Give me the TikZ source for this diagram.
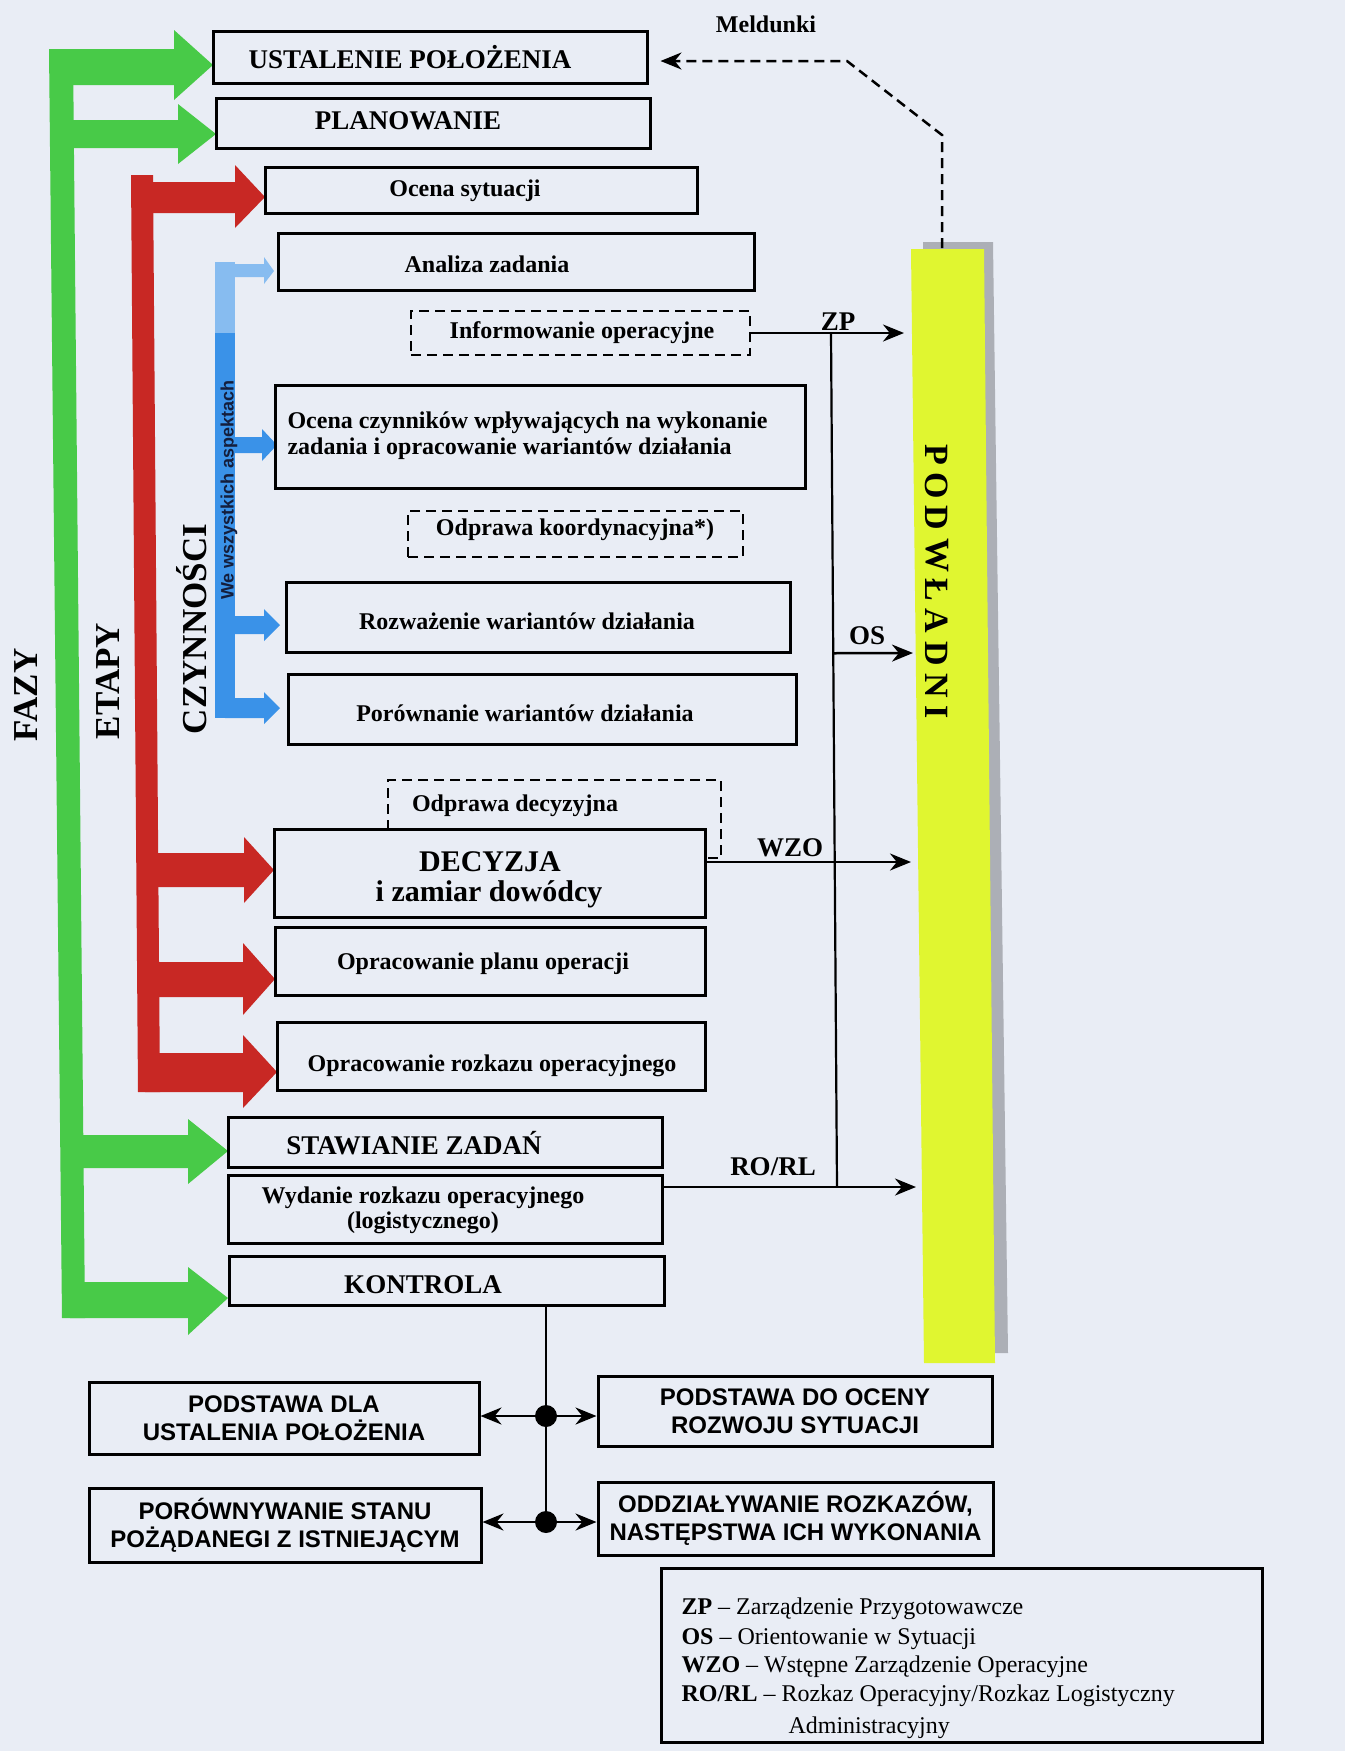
\documentclass[tikz,border=0pt]{standalone}
\usepackage{fontspec}
\setmainfont{Liberation Serif}
\newfontfamily\arialfont{Liberation Sans}
\usetikzlibrary{arrows.meta, calc, positioning}

\definecolor{bg}{RGB}{233, 237, 245}
\definecolor{fz}{RGB}{72, 202, 72}
\definecolor{et}{RGB}{200, 40, 36}
\definecolor{cz}{RGB}{58, 146, 232}
\definecolor{czl}{RGB}{135, 188, 240}
\definecolor{pw}{RGB}{224, 246, 48}
\definecolor{sh}{RGB}{172, 175, 182}
\definecolor{navy}{RGB}{20, 30, 60}

\tikzset{
  box/.style={draw, line width=3pt, fill=bg, inner sep=0pt},
  dbox/.style={draw, line width=2.6pt, dash pattern=on 10pt off 6pt, inner sep=0pt},
  conn/.style={line width=2.5pt, -{Stealth[length=21pt, width=17pt]}},
  bigtxt/.style={font=\fontsize{27}{31}\selectfont\bfseries},
  txt/.style={font=\fontsize{24}{26}\selectfont\bfseries},
  sidetxt/.style={font=\fontsize{35}{38}\selectfont\bfseries, rotate=90},
  sanstxt/.style={font=\arialfont\fontsize{24}{28}\selectfont\bfseries, align=center},
  legtxt/.style={font=\fontsize{24}{28}\selectfont, anchor=base west},
}

\begin{document}
\begin{tikzpicture}[x=1pt, y=-1pt]
	\fill[bg] (0,0) rectangle (1345,1751);
	\useasboundingbox (0,0) rectangle (1345,1751);

	% FAZY
	\fill[fz] (49,49) -- (73,49) -- (85,1318) -- (62,1318) -- cycle;
	\foreach \sa/\sb/\ha/\hb/\ty/\bx/\tx in {49/85/30/100/65/174/213, 120/148/104/164/134/178/216,
		1135/1168/1119/1184/1151/188/228, 1282/1318/1267/1335/1298/188/228}
		\fill[fz] (70,\sa) -- (\bx,\sa) -- (\bx,\ha) -- (\tx,\ty) -- (\bx,\hb) -- (\bx,\sb) -- (70,\sb) -- cycle;

	% ETAPY
	\fill[et] (131,175) -- (153,175) -- (160,1092) -- (138,1092) -- cycle;
	\foreach \sa/\sb/\ha/\hb/\ty/\bx/\tx in {182/213/165/228/197/235/265, 853/887/837/903/870/244/274,
		962/997/943/1015/979/243/275, 1053/1092/1035/1108/1072/243/277}
		\fill[et] (145,\sa) -- (\bx,\sa) -- (\bx,\ha) -- (\tx,\ty) -- (\bx,\hb) -- (\bx,\sb) -- (145,\sb) -- cycle;

	% CZYNNOSCI
	\fill[cz] (215,333) rectangle (235,718);
	\fill[czl] (215,262) rectangle (235,333);
	\fill[czl] (225,264) -- (264,264) -- (264,257) -- (274,271) -- (264,284) -- (264,277) -- (225,277) -- cycle;
	\foreach \sa/\sb/\ha/\hb/\ty/\bx/\tx in {437/453/429/461/445/262/277, 616/634/609/641/625/264/280,
		698/718/692/724/708/264/280}
		\fill[cz] (225,\sa) -- (\bx,\sa) -- (\bx,\ha) -- (\tx,\ty) -- (\bx,\hb) -- (\bx,\sb) -- (225,\sb) -- cycle;

	\node[sidetxt] (fazy) at (26,695) {FAZY};
	\node[sidetxt] (etapy) at (108,681) {ETAPY};
	\node[sidetxt] (czyn) at (192,629) {CZYNNOŚCI};
	\node[font=\arialfont\fontsize{18}{20}\selectfont\bfseries, text=navy, rotate=90] (asp) at (229,490) {We wszystkich aspektach};

	% PODWLADNI
	\fill[sh] (923,242) -- (993,242) -- (1008,1353) -- (936,1353) -- cycle;
	\fill[pw] (911,249) -- (984,249) -- (995,1363) -- (924,1363) -- cycle;
	\foreach \l/\y in {P/455, O/486, D/518, W/555, Ł/590, A/621, D/654, N/686, I/712}
		\node[font=\fontsize{34}{36}\selectfont\bfseries, rotate=-90] (pw\y) at (937,\y) {\l};

	% boxes
	\node[box, minimum width=434pt, minimum height=52pt] (ust) at (430,57) {};
	\node[box, minimum width=434pt, minimum height=50pt] (plan) at (433,123) {};
	\node[box, minimum width=432pt, minimum height=46pt] (ocs) at (481,190) {};
	\node[box, minimum width=476pt, minimum height=57pt] (anz) at (516,261.5) {};
	\node[dbox, minimum width=339pt, minimum height=44pt] (inf) at (580.5,333) {};
	\node[box, minimum width=530pt, minimum height=103pt] (ocz) at (540,436.5) {};
	\node[dbox, minimum width=335pt, minimum height=46pt] (odk) at (575.5,534) {};
	\node[box, minimum width=504pt, minimum height=70pt] (roz) at (538,617) {};
	\node[box, minimum width=508pt, minimum height=70pt] (por) at (542,709) {};
	\node[dbox, minimum width=333pt, minimum height=78pt] (odd) at (554.5,819) {};
	\node[box, minimum width=431pt, minimum height=88pt] (dec) at (489.5,873) {};
	\node[box, minimum width=430pt, minimum height=68pt] (opp) at (490,961) {};
	\node[box, minimum width=428pt, minimum height=68pt] (opr) at (491,1056) {};
	\node[box, minimum width=434pt, minimum height=50pt] (staw) at (445,1142) {};
	\node[box, minimum width=434pt, minimum height=68pt] (wyd) at (445,1209) {};
	\node[box, minimum width=435pt, minimum height=49pt] (kon) at (446.5,1280.5) {};

	\node[bigtxt] (ust-t) at (410,57) {USTALENIE POŁOŻENIA};
	\node[bigtxt] (plan-t) at (408,121) {PLANOWANIE};
	\node[txt] (ocs-t) at (465,191) {Ocena sytuacji};
	\node[txt] (anz-t) at (487,264) {Analiza zadania};
	\node[txt] (inf-t) at (582,333) {Informowanie operacyjne};
	\node[txt, align=left, anchor=west] (ocz-t) at (284,436) {Ocena czynników wpływających na wykonanie\\zadania i opracowanie wariantów działania};
	\node[txt] (odk-t) at (575,530) {Odprawa koordynacyjna*)};
	\node[txt] (roz-t) at (527,621) {Rozważenie wariantów działania};
	\node[txt] (por-t) at (525,713) {Porównanie wariantów działania};
	\node[txt] (odd-t) at (515,806) {Odprawa decyzyjna};
	\node[font=\fontsize{30}{33}\selectfont\bfseries] (dec-t) at (490,862) {DECYZJA};
	\node[font=\fontsize{30}{33}\selectfont\bfseries] (dec-t2) at (489,894) {i zamiar dowódcy};
	\node[txt] (opp-t) at (483,964) {Opracowanie planu operacji};
	\node[txt] (opr-t) at (492,1066) {Opracowanie rozkazu operacyjnego};
	\node[bigtxt] (staw-t) at (414,1143) {STAWIANIE ZADAŃ};
	\node[txt, align=center, font=\fontsize{24}{25}\selectfont\bfseries] (wyd-t) at (423,1210) {Wydanie rozkazu operacyjnego\\(logistycznego)};
	\node[bigtxt] (kon-t) at (423,1285) {KONTROLA};

	% meldunki
	\coordinate (mtop) at (942,248);
	\coordinate (m1) at (942,135);
	\coordinate (m2) at (847,61);
	\draw[conn, dash pattern=on 10pt off 6pt] (mtop) -- (m1) -- (m2) -- ($(ust.east)+(12,4)$);
	\node[font=\fontsize{24}{28}\selectfont\bfseries] (meld) at (766,24) {Meldunki};

	% to PODWLADNI
	\coordinate (zp) at (904,333);
	\coordinate (vtop) at (831,333);
	\coordinate (vbot) at (837,1187);
	\coordinate (vos) at ($(vtop)!0.375!(vbot)$);
	\coordinate (os) at (913,653);
	\coordinate (wzo) at (911,862);
	\coordinate (rorl) at (916,1187);

	\draw[conn] (inf.east) -- (inf.east -| zp);
	\draw[line width=2.2pt] (vtop) -- (vbot);
	\draw[conn] (vos) -- (os);
	\draw[conn] (dec.east |- wzo) -- (wzo);
	\draw[conn] (wyd.east |- rorl) -- (rorl);

	\node[bigtxt] (zp-l) at (838,322) {ZP};
	\node[bigtxt] (os-l) at (867,636) {OS};
	\node[bigtxt] (wzo-l) at (790,848) {WZO};
	\node[bigtxt] (rorl-l) at (773,1167) {RO/RL};

	% bottom
	\node[box, sanstxt, minimum width=390pt, minimum height=72pt] (pdl) at (284,1418) {PODSTAWA DLA\\USTALENIA POŁOŻENIA};
	\node[box, sanstxt, minimum width=392pt, minimum height=74pt] (psi) at (285,1525) {PORÓWNYWANIE STANU\\POŻĄDANEGI Z ISTNIEJĄCYM};
	\node[box, sanstxt, minimum width=394pt, minimum height=70pt] (pdo) at (795,1411) {PODSTAWA DO OCENY\\ROZWOJU SYTUACJI};
	\node[box, sanstxt, minimum width=395pt, minimum height=73pt] (odr) at (795.5,1518.5) {ODDZIAŁYWANIE ROZKAZÓW,\\NASTĘPSTWA ICH WYKONANIA};

	\coordinate (d1) at (546,1416);
	\coordinate (d2) at (546,1522);
	\draw[line width=2.5pt] (kon.south -| d1) -- (d2);
	\draw[conn] (d1) -- (d1 -| pdl.east);
	\draw[conn] (d1) -- (d1 -| pdo.west);
	\draw[conn] (d2) -- (d2 -| psi.east);
	\draw[conn] (d2) -- (d2 -| odr.west);
	\fill (d1) circle (11pt);
	\fill (d2) circle (11pt);

	% legenda
	\node[box, minimum width=601pt, minimum height=174pt] (leg) at (961.5,1655) {};
	\node[legtxt] (leg1) at (678,1614) {\textbf{ZP} – Zarządzenie Przygotowawcze};
	\node[legtxt] (leg2) at (678,1644) {\textbf{OS} – Orientowanie w Sytuacji};
	\node[legtxt] (leg3) at (678,1672) {\textbf{WZO} – Wstępne Zarządzenie Operacyjne};
	\node[legtxt] (leg4) at (678,1701) {\textbf{RO/RL} – Rozkaz Operacyjny/Rozkaz Logistyczny};
	\node[legtxt] (leg5) at (785,1733) {Administracyjny};

\end{tikzpicture}
\end{document}
